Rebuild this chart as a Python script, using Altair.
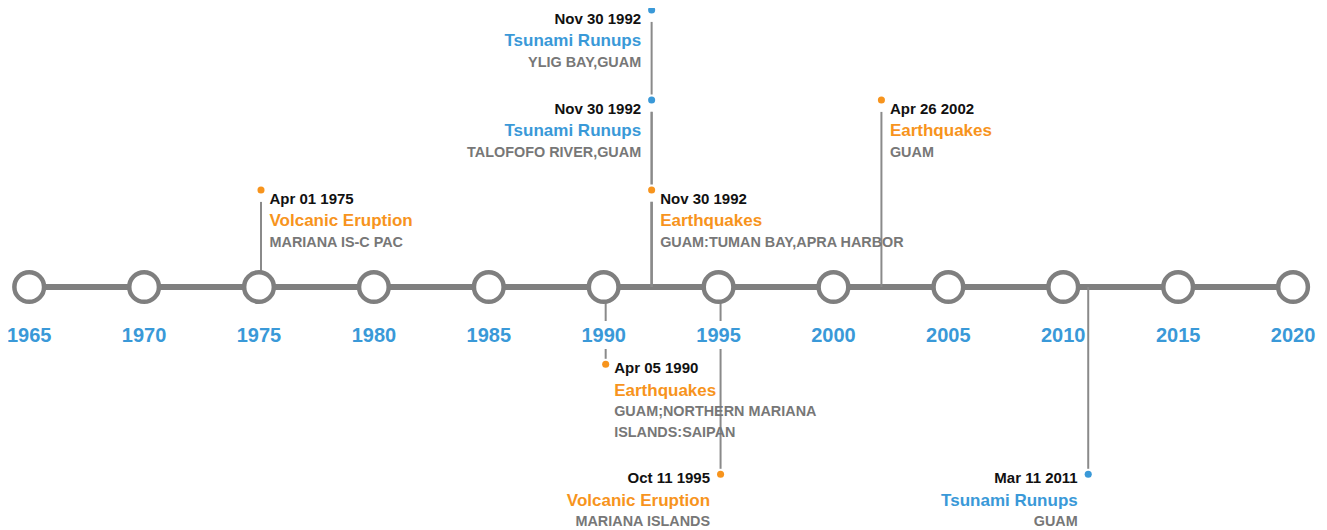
import altair as alt
import pandas as pd

# ---- data ----
years = list(range(1965, 2021, 5))
event_year = [1975, 1990, 1992, 1992, 1992, 1995, 2002, 2011]
event_date = ["Apr 01 1975", "Apr 05 1990", "Nov 30 1992", "Nov 30 1992",
              "Nov 30 1992", "Oct 11 1995", "Apr 26 2002", "Mar 11 2011"]
event_type = ["Volcanic Eruption", "Earthquakes", "Earthquakes", "Tsunami Runups",
              "Tsunami Runups", "Volcanic Eruption", "Earthquakes", "Tsunami Runups"]
event_place = ["MARIANA IS-C PAC", "GUAM;NORTHERN MARIANA\nISLANDS:SAIPAN",
               "GUAM:TUMAN BAY,APRA HARBOR", "TALOFOFO RIVER,GUAM", "YLIG BAY,GUAM",
               "MARIANA ISLANDS", "GUAM", "GUAM"]
event_lane = [1, -1, 1, 2, 3, -2, 2, -2]
event_side = ["right", "right", "right", "left", "left", "left", "right", "left"]

BLUE = "#3a99d8"
ORANGE = "#f7941d"
GRAY_LINE = "#7f7f7f"
STEM = "#8a8a8a"
LOC = "#777777"
FONT = "Liberation Sans"

ev = pd.DataFrame({
    "year": event_year, "date": event_date, "type": event_type,
    "place": event_place, "lane": event_lane, "side": event_side,
})
ev["dir"] = ["above" if l > 0 else "below" for l in ev["lane"]]
yr = pd.DataFrame({"year": years})

xs = alt.Scale(domain=[1964.077, 2021.13], nice=False, zero=False)
ys = alt.Scale(domain=[-2, -1, 0, 1, 2, 3],
               range=[462.3, 352.3, 275, 178, 88, -2.0], nice=False, zero=False)
X = alt.X("year:Q", scale=xs, axis=None)
Y = alt.Y("lane:Q", scale=ys, axis=None)
Y0 = alt.YDatum(0, scale=ys, axis=None)
color = alt.Color("type:N", scale=alt.Scale(
    domain=["Earthquakes", "Volcanic Eruption", "Tsunami Runups"],
    range=[ORANGE, ORANGE, BLUE]), legend=None)

base_y = alt.Chart(yr)
base_e = alt.Chart(ev)

axis_line = base_y.mark_rule(color=GRAY_LINE, strokeWidth=6).encode(
    x=alt.X("min(year):Q", scale=xs, axis=None), x2="max(year):Q", y=Y0)

stems_above = base_e.transform_filter("datum.lane > 0").mark_rule(
    color=STEM, strokeWidth=2, yOffset=11.7, xOffset=2).encode(
    x=X, y=Y, y2=alt.datum(0))
stems_below = base_e.transform_filter("datum.lane < 0").mark_rule(
    color=STEM, strokeWidth=2, yOffset=-5.5, xOffset=2).encode(
    x=X, y=Y, y2=alt.datum(0))
covers = base_e.transform_filter("datum.lane > 0").mark_rule(
    color="white", strokeWidth=6, yOffset=-5.5, y2Offset=11.7, xOffset=2).encode(
    x=X, y=Y, y2="lane:Q")

label_cover = base_y.mark_rule(color="white", strokeWidth=46, yOffset=34, y2Offset=62).encode(
    x=X, y=Y0, y2=alt.datum(0))

circles = base_y.mark_point(shape="circle", size=881, filled=True, fill="white",
                            stroke=GRAY_LINE, strokeWidth=4.5, opacity=1).encode(x=X, y=Y0)

year_labels = base_y.mark_text(fontSize=20, fontWeight="bold", color=BLUE, dy=55,
                               baseline="alphabetic", font=FONT).encode(
    x=X, y=Y0, text=alt.Text("year:Q", format="d"))

dots = base_e.mark_circle(size=50, opacity=1, xOffset=2).encode(x=X, y=Y, color=color)

layers = [axis_line, stems_above, stems_below, covers, label_cover, circles, year_labels, dots]

for side in ["left", "right"]:
    for d, offs in [("above", (13.5, 36, 57)), ("below", (9, 32, 52))]:
        sub = base_e.transform_filter(f"datum.side == '{side}' && datum.dir == '{d}'")
        align = "right" if side == "left" else "left"
        dx = -8.5 if side == "left" else 10.5
        layers.append(sub.mark_text(align=align, baseline="alphabetic", dx=dx, dy=offs[0],
                                    fontSize=15, fontWeight="bold", color="#111111",
                                    font=FONT).encode(x=X, y=Y, text="date:N"))
        layers.append(sub.mark_text(align=align, baseline="alphabetic", dx=dx, dy=offs[1],
                                    fontSize=17, fontWeight="bold", font=FONT).encode(
            x=X, y=Y, text="type:N", color=color))
        layers.append(sub.mark_text(align=align, baseline="alphabetic", dx=dx, dy=offs[2],
                                    fontSize=14.4, fontWeight="bold", color=LOC, font=FONT,
                                    lineBreak="\n", lineHeight=21).encode(
            x=X, y=Y, text="place:N"))

chart = alt.layer(*layers).properties(
    width=1311, height=518,
    autosize=alt.AutoSizeParams(type="none"),
    padding={"left": 0, "top": 4, "right": 0, "bottom": 0},
).configure_view(stroke=None)

chart.save("out.html", embed_options={"renderer": "svg", "actions": False})
